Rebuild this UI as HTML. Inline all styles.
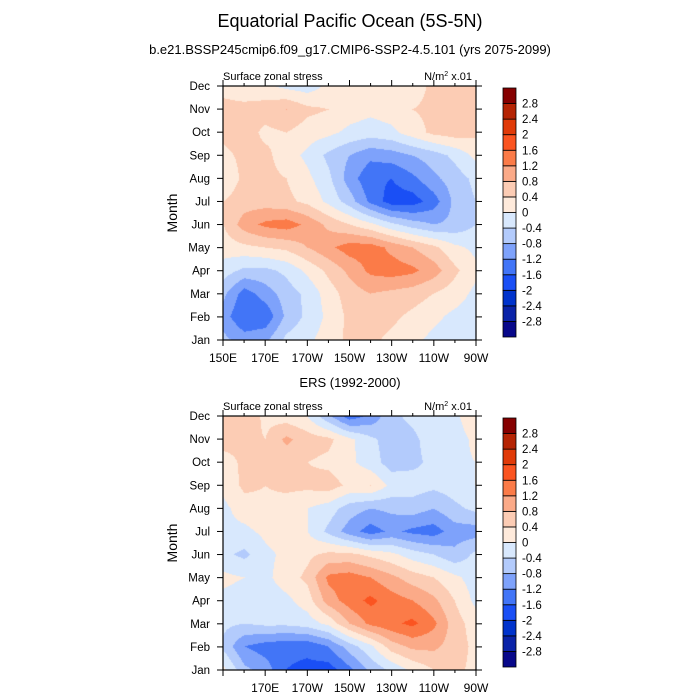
<!DOCTYPE html>
<html><head><meta charset="utf-8">
<style>
body{margin:0;background:#fff;}
#root{position:relative;width:700px;height:700px;font-family:"Liberation Sans",sans-serif;color:#000;overflow:hidden;}
.t{position:absolute;white-space:nowrap;}
canvas{position:absolute;}
svg{position:absolute;left:0;top:0;}
</style></head><body>
<div id="root">
<div class="t" style="left:0;width:700px;text-align:center;top:11px;font-size:18px;">Equatorial Pacific Ocean (5S-5N)</div>
<div class="t" style="left:0;width:700px;text-align:center;top:42px;font-size:13px;">b.e21.BSSP245cmip6.f09_g17.CMIP6-SSP2-4.5.101 (yrs 2075-2099)</div>
<div class="t" style="left:0;width:700px;text-align:center;top:375px;font-size:13px;">ERS (1992-2000)</div>
<canvas id="c1" width="253" height="254" style="left:223px;top:86px;"></canvas>
<canvas id="c2" width="253" height="254" style="left:223px;top:416px;"></canvas>
<svg id="ov" width="700" height="700"></svg>
</div>
<script>
const lons=["150E","160E","170E","180","170W","160W","150W","140W","130W","120W","110W","100W","90W"];
const months=["Jan","Feb","Mar","Apr","May","Jun","Jul","Aug","Sep","Oct","Nov","Dec"];
const levels=[-2.8,-2.4,-2,-1.6,-1.2,-0.8,-0.4,0,0.4,0.8,1.2,1.6,2,2.4,2.8];
const levelLabels=["-2.8","-2.4","-2","-1.6","-1.2","-0.8","-0.4","0","0.4","0.8","1.2","1.6","2","2.4","2.8"];
const colors=["#08088a","#0a23a8","#0033cc","#1a4ff5","#4275f7","#7ea2fb","#b3cbfc","#d8e8fd","#feeadb","#fcccb4","#fbaa88","#fb7b48","#fb5420","#e03a08","#b52404","#850000"];
const modelVals=[
[-0.7,-1.0,-0.9,-0.3,-0.1,0.2,0.5,0.5,0.3,0.1,-0.1,-0.2,-0.3],
[-1.0,-1.6,-1.5,-0.7,-0.3,0.1,0.5,0.6,0.5,0.3,0.1,-0.1,-0.2],
[-0.7,-1.4,-1.0,-0.6,-0.3,0.2,0.6,0.8,0.7,0.6,0.4,0.2,-0.1],
[-0.2,-0.5,-0.5,-0.3,0.1,0.5,0.9,1.3,1.4,1.3,1.0,0.5,0.1],
[0.2,0.3,0.4,0.5,0.8,1.1,1.4,1.4,1.1,0.8,0.5,0.1,-0.1],
[0.4,1.0,1.3,1.4,1.1,0.7,0.4,0.1,-0.3,-0.6,-0.8,-0.7,-0.4],
[0.4,0.6,0.6,0.5,0.3,-0.1,-0.6,-1.3,-1.8,-1.8,-1.4,-0.7,-0.4],
[0.1,0.5,0.5,0.4,0.1,-0.3,-1.0,-1.5,-1.6,-1.3,-0.9,-0.6,-0.3],
[0.3,0.5,0.5,0.2,-0.1,-0.5,-0.8,-1.1,-1.0,-0.8,-0.6,-0.3,0.1],
[0.5,0.6,0.3,0.4,0.2,0.1,-0.1,-0.2,-0.1,0.2,0.5,0.6,0.5],
[0.5,0.5,0.6,0.8,0.5,0.4,0.2,0.1,0.2,0.4,0.5,0.5,0.6],
[0.3,0.2,0.1,-0.1,-0.2,0.1,0.2,0.2,0.1,0.2,0.5,0.6,0.6]];
const obsVals=[
[0.1,-0.7,-1.0,-1.6,-1.7,-1.8,-1.3,-0.7,-0.3,0.1,0.4,0.5,0.3],
[-0.5,-1.2,-1.4,-1.5,-1.5,-1.2,-0.6,-0.1,0.6,0.9,0.9,0.6,0.3],
[-0.3,-0.4,-0.3,-0.3,-0.2,0.1,0.8,1.3,1.5,1.7,1.3,0.6,0.2],
[-0.1,-0.2,-0.2,-0.1,0.2,1.0,1.4,1.7,1.4,1.2,0.9,0.4,-0.1],
[0.1,0.0,-0.1,0.2,0.5,1.3,1.4,1.2,0.9,0.6,0.4,0.1,-0.2],
[-0.3,-0.5,-0.1,0.1,0.3,0.5,0.5,0.3,0.1,-0.2,-0.4,-0.7,-0.3],
[-0.1,-0.1,0.1,0.2,0.0,-0.5,-1.0,-1.4,-1.1,-1.3,-1.4,-1.0,-1.0],
[-0.1,0.2,0.3,0.2,0.0,-0.2,-0.6,-0.8,-0.7,-0.6,-0.8,-0.5,-0.3],
[0.1,0.5,0.4,0.5,0.5,0.6,0.3,0.4,-0.1,-0.2,-0.3,-0.2,0.0],
[0.2,0.5,0.6,0.5,0.4,0.3,0.1,-0.2,-0.6,-0.5,-0.3,-0.1,0.0],
[0.6,0.5,0.4,0.9,0.6,0.5,0.1,-0.3,-0.6,-0.5,-0.2,-0.2,0.1],
[0.6,0.7,0.3,0.2,0.0,-0.7,-1.4,-1.1,-0.5,-0.3,-0.1,-0.1,0.3]];

function hex(c){return [parseInt(c.substr(1,2),16),parseInt(c.substr(3,2),16),parseInt(c.substr(5,2),16)];}
function bin(v){let i=0;while(i<levels.length&&v>=levels[i])i++;return i;}
function drawField(id,vals){
  const cv=document.getElementById(id),ctx=cv.getContext('2d');
  const W=cv.width,H=cv.height,img=ctx.createImageData(W,H);
  const nx=lons.length-1,ny=months.length-1;
  for(let py=0;py<H;py++){
    const fy=(H-1-py)/(H-1)*ny;const j=Math.min(Math.floor(fy),ny-1),ty=fy-j;
    for(let px=0;px<W;px++){
      const fx=px/(W-1)*nx;const i=Math.min(Math.floor(fx),nx-1),tx=fx-i;
      const v=(vals[j][i]*(1-tx)+vals[j][i+1]*tx)*(1-ty)+(vals[j+1][i]*(1-tx)+vals[j+1][i+1]*tx)*ty;
      const c=hex(colors[bin(v)]);const k=(py*W+px)*4;
      img.data[k]=c[0];img.data[k+1]=c[1];img.data[k+2]=c[2];img.data[k+3]=255;
    }
  }
  ctx.putImageData(img,0,0);
}
drawField('c1',modelVals);
drawField('c2',obsVals);

const NS="http://www.w3.org/2000/svg",ov=document.getElementById('ov');
function el(tag,attrs,txt){const e=document.createElementNS(NS,tag);for(const k in attrs)e.setAttribute(k,attrs[k]);if(txt!==undefined)e.textContent=txt;ov.appendChild(e);return e;}
const X0=223,X1=476,xs=(X1-X0)/120;
function lonX(deg){return X0+(deg-150)*xs;}
const xTickDeg=[150,170,190,210,230,250,270];
const xTickLab=["150E","170E","170W","150W","130W","110W","90W"];
function panel(top,name,showFirst){
  const y0=top,y1=top+254,ms=(y1-y0)/11;
  const r=el('rect',{x:X0,y:y0,width:X1-X0,height:y1-y0,fill:'none',stroke:'#000','stroke-width':1.2});
  
  
  months.forEach((m,i)=>{
    const y=y1-i*ms;
    el('line',{x1:X0-6,x2:X0,y1:y,y2:y,stroke:'#000'});
    el('line',{x1:X1,x2:X1+6,y1:y,y2:y,stroke:'#000'});
    const t=el('text',{x:X0-13,y:y+4,'font-size':11.5,'text-anchor':'end'},m);
    
    
  });
  for(let d=150;d<=270;d+=10){
    const x=lonX(d),major=(d-150)%20===0,len=major?6:3;
    el('line',{x1:x,x2:x,y1:y1,y2:y1+len,stroke:'#000'});
    el('line',{x1:x,x2:x,y1:y0-len,y2:y0,stroke:'#000'});
  }
  xTickDeg.forEach((d,i)=>{
    if(i===0&&!showFirst)return;
    const t=el('text',{x:lonX(d),y:y1+22,'font-size':12,'text-anchor':'middle'},xTickLab[i]);
    
    
  });
  const yt=el('text',{x:0,y:0,'font-size':14,'text-anchor':'middle',transform:`translate(177,${(y0+y1)/2}) rotate(-90)`},'Month');
  
  
  const ls=el('text',{x:X0,y:y0-6,'font-size':11},'Surface zonal stress');
  
  
  const us=el('text',{x:X1-4,y:y0-6,'font-size':11,'text-anchor':'end'});
  
  
  us.innerHTML='N/m<tspan dy="-4" font-size="7">2</tspan><tspan dy="4"> x.01</tspan>';
  const cb0=top+2,cb1=top+251,bh=(cb1-cb0)/colors.length;
  colors.forEach((c,i)=>{
    const b=el('rect',{x:503,y:cb1-(i+1)*bh,width:13,height:bh,fill:c,stroke:'#000','stroke-width':0.8});
    
    
  });
  levelLabels.forEach((l,i)=>{
    const t=el('text',{x:522,y:cb1-(i+1)*bh+4,'font-size':11.5},l);
    
    
  });
}
panel(86,'top',true);
panel(416,'bottom',false);
</script>
</body></html>
